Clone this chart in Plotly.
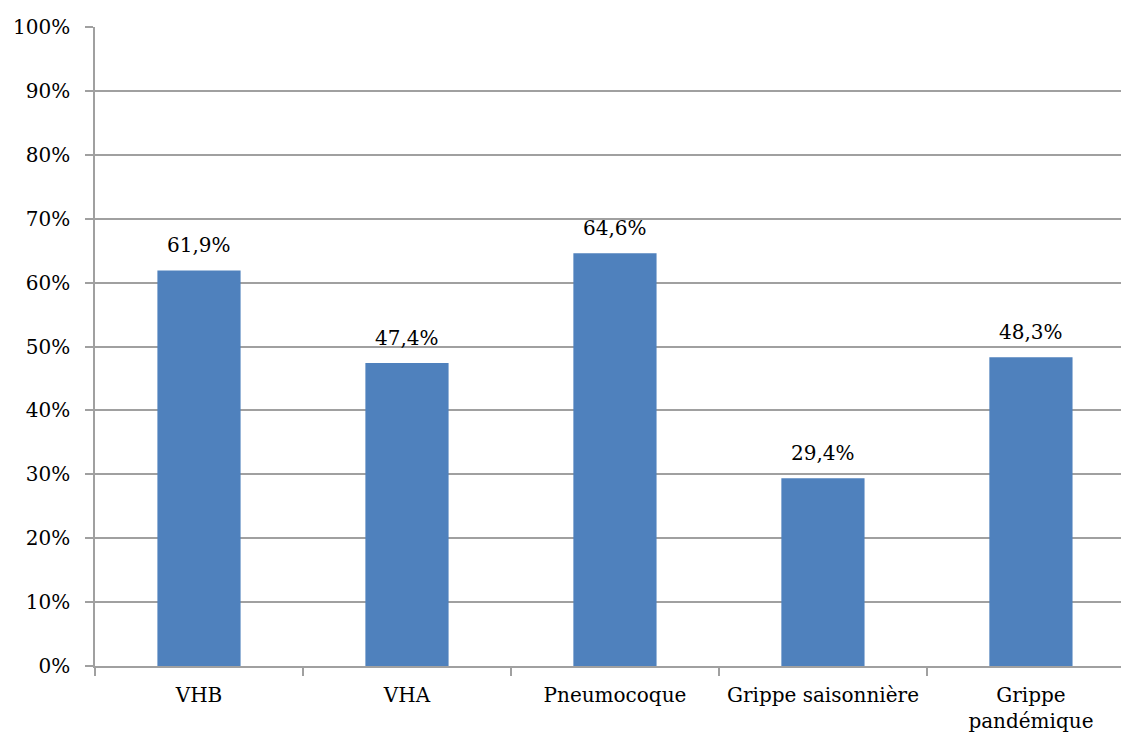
import plotly.graph_objects as go

categories = ["VHB", "VHA", "Pneumocoque", "Grippe saisonnière", "Grippe<br>pandémique"]
values = [61.9, 47.4, 64.6, 29.4, 48.3]
tick_vals = [0, 10, 20, 30, 40, 50, 60, 70, 80, 90, 100]
tick_text = [f"{v}%" for v in tick_vals]
labels = [f"{v:.1f}%".replace(".", ",") for v in values]

FONT = "DejaVu Serif"
SIZE = 20

fig = go.Figure(go.Bar(
    x=categories, y=values, width=0.4,
    marker=dict(color="#4F81BD", line=dict(width=0)),
))

for c, v, t in zip(categories, values, labels):
    fig.add_annotation(x=c, y=v, text=t, showarrow=False, yanchor="bottom",
                       yshift=11, font=dict(family=FONT, size=SIZE, color="#000000"))

fig.update_layout(
    width=1121, height=740,
    margin=dict(l=95, r=0, t=27, b=74),
    paper_bgcolor="white", plot_bgcolor="white",
    showlegend=False,
    font=dict(family=FONT, size=SIZE, color="#000000"),
)
fig.update_xaxes(
    range=[-0.5, 4.433], type="category",
    showline=True, linecolor="#a0a0a0", linewidth=1.5,
    ticks="outside", tickson="boundaries", ticklen=8, tickcolor="#a0a0a0", tickwidth=1.5,
    showgrid=False, tickangle=0, ticklabelstandoff=10,
)
fig.update_yaxes(
    range=[0, 100], tickvals=tick_vals, ticktext=tick_text,
    showgrid=True, gridcolor="#a0a0a0", gridwidth=1.5,
    showline=True, linecolor="#a0a0a0", linewidth=1.5,
    ticks="outside", ticklen=8, tickcolor="#a0a0a0", tickwidth=1.5,
    zeroline=False, ticklabelstandoff=11,
)

fig.write_html("out.html")
